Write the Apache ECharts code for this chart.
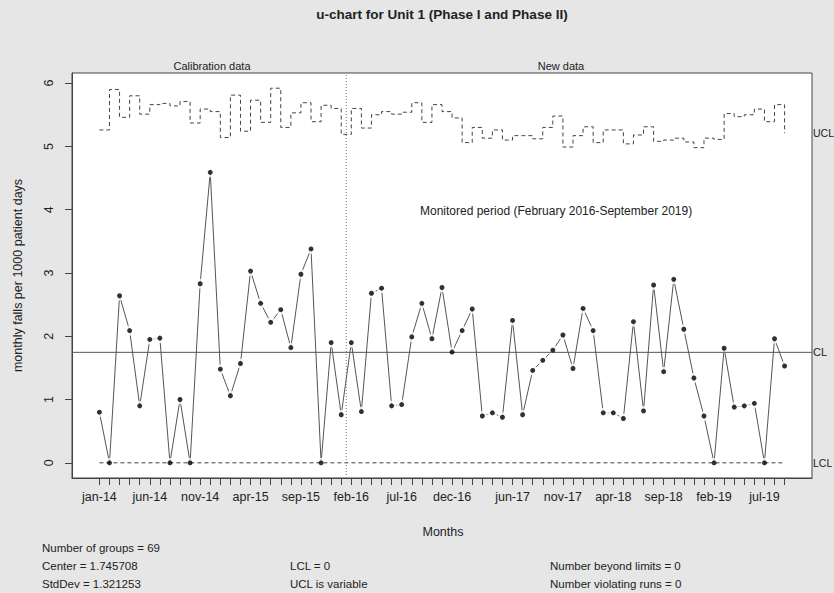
<!DOCTYPE html>
<html><head><meta charset="utf-8">
<script src="https://cdn.jsdelivr.net/npm/echarts@6/dist/echarts.min.js"></script>
<style>html,body{margin:0;padding:0;background:#e6e6e6}#c{width:834px;height:593px}</style>
</head><body><div id="c"></div>
<script>
// ---- data ----
const months = ['jan-14','feb-14','mar-14','apr-14','may-14','jun-14','jul-14','aug-14','sep-14','oct-14','nov-14','dec-14',
  'jan-15','feb-15','mar-15','apr-15','may-15','jun-15','jul-15','aug-15','sep-15','oct-15','nov-15','dec-15',
  'jan-16','feb-16','mar-16','apr-16','may-16','jun-16','jul-16','aug-16','sep-16','oct-16','nov-16','dec-16',
  'jan-17','feb-17','mar-17','apr-17','may-17','jun-17','jul-17','aug-17','sep-17','oct-17','nov-17','dec-17',
  'jan-18','feb-18','mar-18','apr-18','may-18','jun-18','jul-18','aug-18','sep-18','oct-18','nov-18','dec-18',
  'jan-19','feb-19','mar-19','apr-19','may-19','jun-19','jul-19','aug-19','sep-19'];
const labelIndex = [0,5,10,15,20,25,30,35,41,46,51,56,61,66];
const falls = [0.80,0.00,2.64,2.09,0.90,1.95,1.97,0.00,1.00,0.00,2.83,4.59,1.48,1.06,1.57,3.03,2.52,2.22,2.42,1.82,2.98,3.38,0.00,1.90,0.76,
  1.90,0.81,2.68,2.76,0.90,0.92,1.99,2.52,1.96,2.77,1.75,2.09,2.43,0.74,0.79,0.72,2.25,0.76,1.46,1.62,1.78,2.02,1.49,2.44,2.09,
  0.79,0.79,0.70,2.23,0.82,2.81,1.44,2.90,2.11,1.34,0.74,0.00,1.81,0.88,0.90,0.94,0.00,1.96,1.53];
const ucl = [5.26,5.90,5.46,5.80,5.51,5.66,5.68,5.64,5.71,5.37,5.59,5.55,5.14,5.81,5.24,5.73,5.38,5.92,5.30,5.53,5.69,5.39,5.65,5.60,5.19,
  5.60,5.29,5.50,5.55,5.51,5.54,5.69,5.38,5.66,5.55,5.45,5.06,5.30,5.13,5.26,5.10,5.17,5.17,5.12,5.30,5.48,4.99,5.17,5.31,5.06,5.26,5.26,5.04,
  5.18,5.31,5.08,5.10,5.13,5.07,4.98,5.13,5.11,5.52,5.47,5.50,5.59,5.39,5.66,5.21];
const centerLine = 1.745708;
const lclValue = 0;
const phaseSplit = 24.5;
const yTicks = [0,1,2,3,4,5,6];
const statsLeft = ['Number of groups = 69','Center = 1.745708','StdDev = 1.321253'];
const statsMid = ['LCL = 0','UCL is variable'];
const statsRight = ['Number beyond limits = 0','Number violating runs = 0'];

// ---- chart ----
const F = "'Liberation Sans',Arial,sans-serif";
const XMIN = -2.72, XMAX = 70.72, YMIN = -0.24, YMAX = 6.16;
const idx = months.map((m, i) => i);
const chart = echarts.init(document.getElementById('c'), null, {renderer: 'svg'});
const dash = [4, 3];
chart.setOption({
  animation: false,
  backgroundColor: '#e6e6e6',
  textStyle: {fontFamily: F},
  grid: {left: 72, top: 73, width: 740, height: 405, show: true, backgroundColor: '#fff', borderColor: '#444', borderWidth: 1},
  xAxis: {
    type: 'value', min: XMIN, max: XMAX,
    axisLine: {show: true, onZero: false, lineStyle: {color: '#444'}},
    axisTick: {show: true, customValues: idx, length: 7, lineStyle: {color: '#444'}},
    axisLabel: {customValues: labelIndex, formatter: v => months[Math.round(v)], margin: 12, fontSize: 12.5, color: '#222', fontFamily: F},
    splitLine: {show: false}
  },
  yAxis: {
    type: 'value', min: YMIN, max: YMAX,
    name: 'monthly falls per 1000 patient days', nameLocation: 'middle', nameGap: 48, nameRotate: 90,
    nameTextStyle: {fontSize: 12.5, color: '#222', fontFamily: F},
    axisLine: {show: true, onZero: false, lineStyle: {color: '#444'}},
    axisTick: {show: true, customValues: yTicks, length: 7, lineStyle: {color: '#444'}},
    axisLabel: {customValues: yTicks, rotate: 90, margin: 17, fontSize: 12.5, color: '#222', fontFamily: F},
    splitLine: {show: false}
  },
  series: [
    {type: 'line', data: falls.map((v, i) => [i, v]), symbol: 'none', lineStyle: {color: '#555', width: 1}, z: 2, silent: true},
    {type: 'scatter', data: falls.map((v, i) => [i, v]), symbolSize: 10, itemStyle: {color: '#fff'}, z: 3, silent: true},
    {type: 'line', data: [[XMIN, centerLine], [XMAX, centerLine]], symbol: 'none', lineStyle: {color: '#555', width: 1}, z: 4, silent: true},
    {type: 'line', data: [[0, lclValue], [months.length - 1, lclValue]], symbol: 'none', lineStyle: {color: '#444', width: 1, type: dash}, z: 4, silent: true},
    {type: 'line', step: 'end', data: ucl.map((v, i) => [i, v]), symbol: 'none', lineStyle: {color: '#444', width: 1, type: dash}, z: 4, silent: true},
    {type: 'line', data: [[phaseSplit, YMIN], [phaseSplit, YMAX]], symbol: 'none', lineStyle: {color: '#777', width: 1, type: [1, 2]}, z: 4, silent: true},
    {type: 'scatter', data: falls.map((v, i) => [i, v]), symbolSize: 5, itemStyle: {color: '#000'}, z: 5, silent: true}
  ]
});

const yUCL = chart.convertToPixel({gridIndex: 0}, [0, ucl[ucl.length - 1]])[1];
const yCL = chart.convertToPixel({gridIndex: 0}, [0, centerLine])[1];
const yLCL = chart.convertToPixel({gridIndex: 0}, [0, lclValue])[1];
const T = (x, y, text, extra) => Object.assign({type: 'text', x: x, y: y, style: Object.assign({text: text, font: '12px ' + F, fill: '#222', textVerticalAlign: 'middle'}, extra || {})});
const g = [
  T(442, 14, 'u-chart for Unit 1 (Phase I and Phase II)', {font: 'bold 13.5px ' + F, textAlign: 'center'}),
  T(212, 66, 'Calibration data', {font: '11px ' + F, textAlign: 'center'}),
  T(561, 66, 'New data', {font: '11px ' + F, textAlign: 'center'}),
  T(420, 211, 'Monitored period (February 2016-September 2019)'),
  T(443, 532, 'Months', {font: '12.5px ' + F, textAlign: 'center'}),
  T(813, yUCL, 'UCL', {font: '10.5px ' + F}),
  T(813, yCL, 'CL', {font: '11px ' + F}),
  T(813, yLCL, 'LCL', {font: '10.5px ' + F})
];
statsLeft.forEach((s, i) => g.push(T(42, 548 + 18 * i, s, {font: '11.5px ' + F})));
statsMid.forEach((s, i) => g.push(T(290, 566 + 18 * i, s, {font: '11.5px ' + F})));
statsRight.forEach((s, i) => g.push(T(550, 566 + 18 * i, s, {font: '11.5px ' + F})));
chart.setOption({graphic: g});
</script>
</body></html>
